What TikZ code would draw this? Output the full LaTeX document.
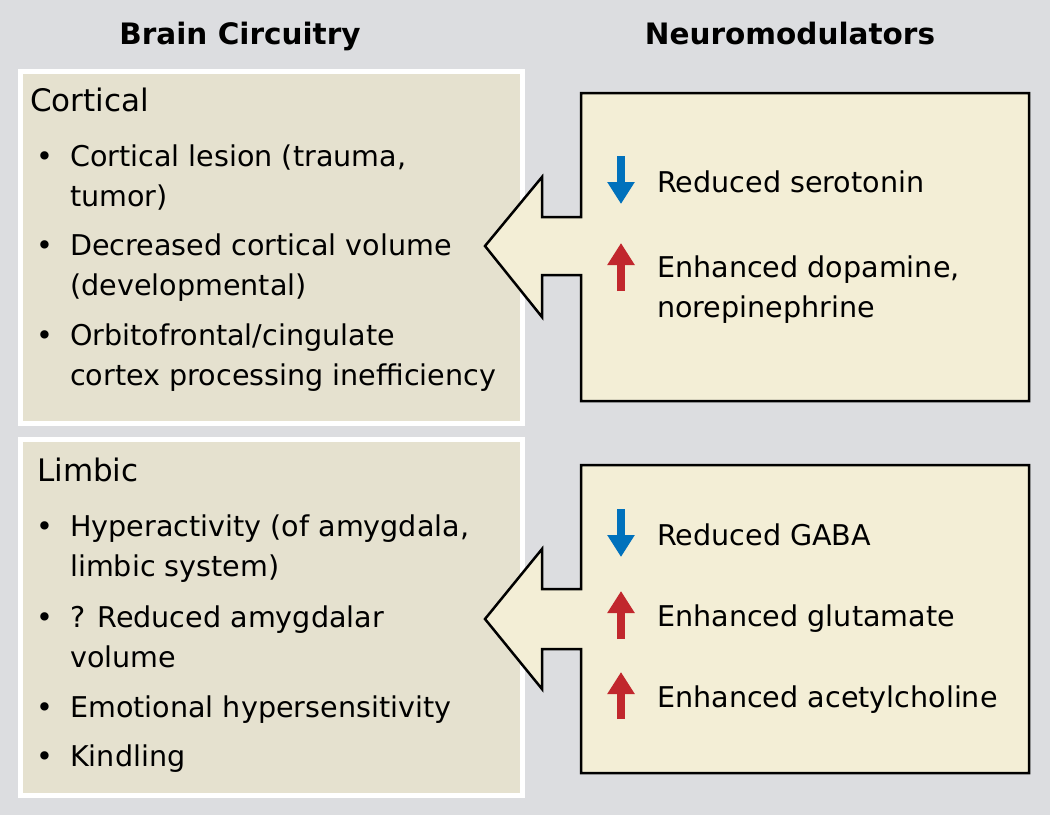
\documentclass[tikz,border=0pt]{standalone}
\usepackage{fontspec}
\setmainfont{DejaVu Sans}
\usetikzlibrary{arrows.meta,positioning}

\definecolor{bggray}{HTML}{DCDDE0}
\definecolor{circfill}{HTML}{E5E1CF}
\definecolor{modfill}{HTML}{F3EED6}
\definecolor{downblue}{HTML}{0071BC}
\definecolor{upred}{HTML}{C1272D}

\tikzset{
  txt/.style={anchor=base west, inner sep=0pt, font=\fontsize{28.6}{32}\selectfont},
  sect/.style={anchor=base west, inner sep=0pt, font=\fontsize{31}{35}\selectfont},
  head/.style={anchor=base, inner sep=0pt, font=\fontsize{29.5}{33}\selectfont\bfseries},
  circbox/.style={fill=circfill, draw=white, line width=5pt},
  modbox/.style={fill=modfill, draw=black, line width=2.5pt, line join=miter},
  down/.style={downblue, line width=8pt, -{Triangle[width=26pt,length=22pt]}},
  up/.style={upred, line width=8pt, -{Triangle[width=26pt,length=22pt]}},
}

\begin{document}
\begin{tikzpicture}[x=1pt,y=-1pt]
        \fill[bggray] (0,0) rectangle (1050,815);
        \useasboundingbox (0,0) rectangle (1050,815);

        % headings
        \node[head] (brain) at (240,44) {Brain Circuitry};
        \node[head] (neuro) at (790,44) {Neuromodulators};

        % left column
        \draw[circbox] (20.5,71.5) rectangle (522.5,423.5);
        \draw[circbox] (20.5,439.5) rectangle (522.5,795.5);

        % right column with arrows
        \draw[modbox] (1029,93) -- (581,93) -- (581,217) -- (542,217) -- (542,177)
            -- (485,246) -- (542,317) -- (542,275) -- (581,275) -- (581,401) -- (1029,401) -- cycle;
        \draw[modbox] (1029,465) -- (581,465) -- (581,589) -- (542,589) -- (542,549)
            -- (485,619) -- (542,689) -- (542,649) -- (581,649) -- (581,773) -- (1029,773) -- cycle;

        % cortical
        \node[sect] (cortical) at (30,111) {Cortical};
        \node[txt] (c1) at (70,166) {Cortical lesion (trauma,};
        \node[txt] (c1b) at (70,206) {tumor)};
        \node[txt] (c2) at (70,255) {Decreased cortical volume};
        \node[txt] (c2b) at (70,295) {(developmental)};
        \node[txt] (c3) at (70,345) {Orbitofrontal/cingulate};
        \node[txt] (c3b) at (70,385) {cortex processing inefficiency};
        \foreach \y in {166,255,345} \node[txt, anchor=base] at (45,\y) {•};

        % limbic
        \node[sect] (limbic) at (37,481) {Limbic};
        \node[txt] (l1) at (70,536) {Hyperactivity (of amygdala,};
        \node[txt] (l1b) at (70,576) {limbic system)};
        \node[txt] (l2) at (70,627) {? Reduced amygdalar};
        \node[txt] (l2b) at (70,667) {volume};
        \node[txt] (l3) at (70,717) {Emotional hypersensitivity};
        \node[txt] (l4) at (70,766) {Kindling};
        \foreach \y in {536,627,717,766} \node[txt, anchor=base] at (45,\y) {•};

        % neuromodulators
        \node[txt] (sero) at (657,192) {Reduced serotonin};
        \node[txt] (dopa) at (657,277) {Enhanced dopamine,};
        \node[txt] (nore) at (657,317) {norepinephrine};
        \node[txt] (gaba) at (657,545) {Reduced GABA};
        \node[txt] (glut) at (657,626) {Enhanced glutamate};
        \node[txt] (acet) at (657,707) {Enhanced acetylcholine};

        \draw[down] (621,156) -- (621,204);
        \draw[up] (621,291) -- (621,243);
        \draw[down] (621,509) -- (621,557);
        \draw[up] (621,639) -- (621,591);
        \draw[up] (621,719) -- (621,672);
    \end{tikzpicture}
\end{document}
